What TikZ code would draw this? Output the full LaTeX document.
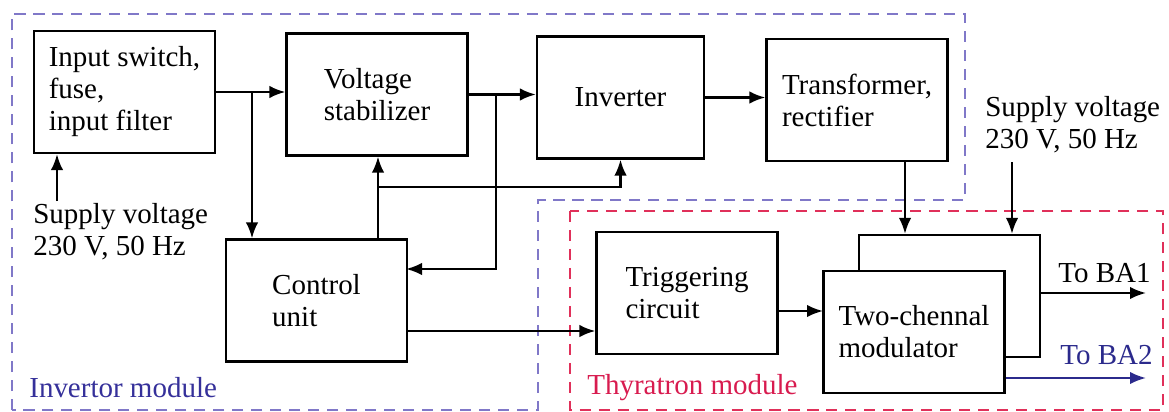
\documentclass[tikz,border=0pt]{standalone}
\usepackage{fontspec}
\setmainfont{LiberationSerif}[Extension=.ttf, UprightFont=*-Regular]
\usepackage{tikz}
\usetikzlibrary{positioning,arrows.meta}
\definecolor{invblue}{HTML}{8078C8}
\definecolor{invtext}{HTML}{35309A}
\definecolor{thyred}{HTML}{E0305A}
\definecolor{thytext}{HTML}{D81B4F}
\definecolor{banavy}{HTML}{2B2A8C}
\begin{document}
\begin{tikzpicture}[
    x=0.02cm, y=-0.02cm,
    font=\rmfamily\fontsize{16.5}{18.2}\selectfont,
    blk/.style={draw, line width=1.3pt,
                minimum width=3.62cm, minimum height=2.44cm,
                align=left, fill=white, inner sep=0pt},
    sig/.style={-{Latex[length=3.2mm,width=2.5mm]}, line width=1.3pt},
    lbl/.style={align=left, inner sep=0pt},
    frame/.style={dash pattern=on 6.3pt off 4.5pt, line width=1pt}
  ]
    \useasboundingbox (0,0) rectangle (1169,412);
    \draw[frame, invblue] (12,410) -- (12,14) -- (965,14) -- (965,200)
      -- (538,200) -- (538,410) -- cycle;
    \draw[frame, thyred] (570,211) rectangle (1163,410);
    \node[lbl, anchor=west, text=invtext] (invmod) at (29,388) {Invertor module};
    \node[lbl, anchor=west, text=thytext] (thymod) at (587,388) {Thyratron module};

    \node[blk] (inp) at (124.5,92) {Input switch,\\fuse,\\input filter};
    \node[blk] (stab) at (377,94.5) {Voltage\\stabilizer};
    \node[blk, minimum width=3.34cm] (inv) at (620.5,97.5) {Inverter};
    \node[blk] (trf) at (857,100) {Transformer,\\rectifier};
    \node[blk] (ctrl) at (316.5,300.5) {Control\\unit};
    \node[blk] (trig) at (687,293) {Triggering\\circuit};
    \node[blk] (modback) at (949.5,296) {};
    \node[blk] (mod) at (914,332) {Two-chennal\\modulator};
    \node[lbl, anchor=north west] (supL) at (33,203) {Supply voltage\\230 V, 50 Hz};
    \node[lbl, anchor=north west] (supR) at (985,96) {Supply voltage\\230 V, 50 Hz};
    \node[lbl, anchor=south east] (ba1lbl) at (1151,283) {To BA1};
    \node[lbl, anchor=south east, text=banavy] (ba2lbl) at (1153,365) {To BA2};

    \coordinate (j1) at (252,92);
    \coordinate (j2) at (496,94.5);
    \coordinate (j3) at (378,187);
    \coordinate (s1) at (57,201);
    \coordinate (s2) at (1012,162);
    \coordinate (c2) at (406,269);
    \coordinate (c3) at (378,239);
    \coordinate (c4) at (406,331);
    \coordinate (t1) at (905,162);
    \coordinate (m1) at (823,311);
    \coordinate (ba1) at (1146,293);
    \coordinate (ba2) at (1146,378);

    \draw[sig] (inp.east) -- (inp.east -| stab.west);
    \draw[sig] (j1) -- (j1 |- ctrl.north);
    \draw[sig] (s1) -- (s1 |- inp.south);
    \draw[sig] (stab.east) -- (stab.east -| inv.west);
    \draw[sig] (j2) |- (c2);
    \draw[sig] (c3) -- (c3 |- stab.south);
    \draw[sig] (j3) -| (inv.south);
    \draw[sig] (c4) -- (c4 -| trig.west);
    \draw[sig] (inv.east) -- (inv.east -| trf.west);
    \draw[sig] (t1) -- (t1 |- modback.north);
    \draw[sig] (s2) -- (s2 |- modback.north);
    \draw[sig] (m1 -| trig.east) -- (m1);
    \draw[sig] (modback.east |- ba1) -- (ba1);
    \draw[sig, banavy] (mod.east |- ba2) -- (ba2);
  \end{tikzpicture}
\end{document}
